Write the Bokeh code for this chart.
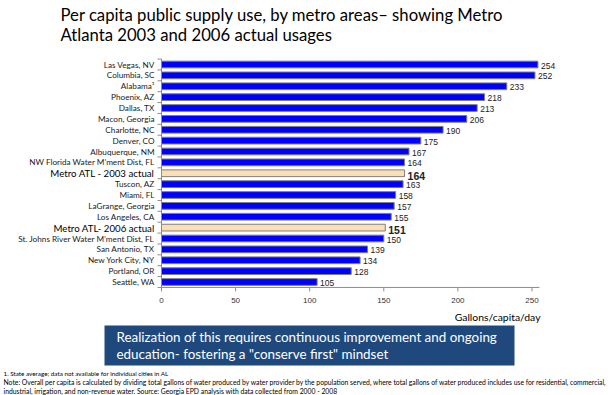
from bokeh.plotting import figure
from bokeh.models import ColumnDataSource, Label, Range1d, BoxAnnotation
from bokeh.core.properties import value, field
from bokeh.embed import file_html
from bokeh.resources import INLINE

# ---- data ----
categories = ["Las Vegas, NV", "Columbia, SC", "Alabama\u00b9", "Phoenix, AZ", "Dallas, TX",
              "Macon, Georgia", "Charlotte, NC", "Denver, CO", "Albuquerque, NM",
              "NW Florida Water M\u2019ment Dist, FL", "Metro ATL - 2003 actual", "Tuscon, AZ",
              "Miami, FL", "LaGrange, Georgia", "Los Angeles, CA", "Metro ATL- 2006 actual",
              "St. Johns River Water M\u2019ment Dist, FL", "San Antonio, TX", "New York City, NY",
              "Portland, OR", "Seattle, WA"]
values = [254, 252, 233, 218, 213, 206, 190, 175, 167, 164, 164, 163, 158, 157, 155, 151,
          150, 139, 134, 128, 105]
highlight = ["Metro ATL - 2003 actual", "Metro ATL- 2006 actual"]
x_ticks = [0, 50, 100, 150, 200, 250]
x_tick_labels = ["0", "50", "100", "150", "200", "250"]

title_lines = ["Per capita public supply use, by metro areas\u2013 showing Metro",
               "Atlanta 2003 and 2006 actual usages"]
box_lines = ["Realization of this requires continuous improvement and ongoing",
             "education- fostering a \"conserve first\" mindset"]
foot_lines = ["1. State average; data not available for individual cities in AL",
              "Note: Overall per capita is calculated by dividing total gallons of water produced by water provider by the population served, where total gallons of water produced  includes use for residential, commercial,",
              "industrial, irrigation, and non-revenue water.        Source: Georgia EPD analysis with data collected from 2000 - 2008"]

# ---- layout constants (pixels) ----
W, H = 613, 395
X0_PX = 161          # canvas x of value 0
PX_X = 1.482         # px per gallon unit
Y0_PX = 64.0         # canvas y (from top) of first bar centre
PX_Y = 10.875        # px per bar slot
AX_END = 255.0       # x axis extent in data units
TICK = 4.0           # tick length px

n = len(categories)
idx = list(range(n))
is_hi = [c in highlight for c in categories]
src = ColumnDataSource(dict(
    y=idx, v=values, cat=categories,
    vtxt=[str(v) for v in values],
    fill=["#FADFB4" if h else "#0000FF" for h in is_hi],
    cfs=["9.7px" if h else "8.2px" for h in is_hi],
    vfs=["10.5px" if h else "8.5px" for h in is_hi],
    vst=["bold" if h else "normal" for h in is_hi],
    voff=[2.5 if h else 1.0 for h in is_hi],
    ccol=["#000000" if h else "#1a1a1a" for h in is_hi],
))

x_range = Range1d(-X0_PX / PX_X, (W - X0_PX) / PX_X)
y_range = Range1d((H - Y0_PX) / PX_Y, -Y0_PX / PX_Y)

p = figure(width=W, height=H, output_backend="svg", toolbar_location=None,
           x_range=x_range, y_range=y_range, x_axis_type=None, y_axis_type=None,
           min_border=0)
p.outline_line_color = None
p.xgrid.visible = False
p.ygrid.visible = False
p.background_fill_color = "white"
p.border_fill_color = "white"

bottom = n - 0.5
top = -0.5
AXC = "#8c8c8c"

# bars
p.hbar(y="y", left=0, right="v", height=0.62, source=src,
       fill_color="fill", line_color="#7f7f7f", line_width=1)

# axes drawn through the scales
p.segment(x0=[0, 0], y0=[top, bottom], x1=[0, AX_END], y1=[bottom, bottom],
          line_color=AXC, line_width=1)
ybounds = [i - 0.5 for i in range(n + 1)]
p.segment(x0=[-TICK / PX_X] * len(ybounds), y0=ybounds, x1=[0] * len(ybounds), y1=ybounds,
          line_color=AXC, line_width=1)
p.segment(x0=x_ticks, y0=[bottom] * len(x_ticks), x1=x_ticks,
          y1=[bottom + TICK / PX_Y] * len(x_ticks), line_color=AXC, line_width=1)
p.text(x=x_ticks, y=[bottom] * len(x_ticks), text=x_tick_labels, y_offset=13,
       text_align="center", text_baseline="middle", text_font=value("Liberation Sans"),
       text_font_size="8px", text_color="#333333")

# category labels and value labels
p.text(x=0, y="y", text="cat", source=src, x_offset=-7,
       text_align="right", text_baseline="middle", text_font=value("Lato"),
       text_font_size=field("cfs"), text_color=field("ccol"))
p.text(x="v", y="y", text="vtxt", source=src, x_offset=3, y_offset=field("voff"),
       text_align="left", text_baseline="middle", text_font=value("Liberation Sans"),
       text_font_size=field("vfs"), text_font_style=field("vst"), text_color="#222222")


def lab(txt, x, y, size, color="#000000", align="left", font="Lato"):
    p.add_layout(Label(x=x, y=y, x_units="screen", y_units="screen", text=txt,
                       text_font=font, text_font_size=size, text_color=color,
                       text_align=align, text_baseline="middle"))


lab(title_lines[0], 60, 381, "16.7px")
lab(title_lines[1], 60, 361, "16.7px")
lab("Gallons/capita/day", 540, 79, "10.4px", align="right")

p.add_layout(BoxAnnotation(left=104, right=514, bottom=30, top=70,
                           left_units="screen", right_units="screen",
                           bottom_units="screen", top_units="screen",
                           fill_color="#1F497D", fill_alpha=1.0, line_color=None))
lab(box_lines[0], 116, 59, "13.4px", color="white")
lab(box_lines[1], 116, 42, "13.4px", color="white")

lab(foot_lines[0], 3, 22, "6.3px")
lab(foot_lines[1], 3, 13.5, "6.8px")
lab(foot_lines[2], 3, 5, "6.8px")

open("out.html", "w").write(file_html(p, INLINE))
